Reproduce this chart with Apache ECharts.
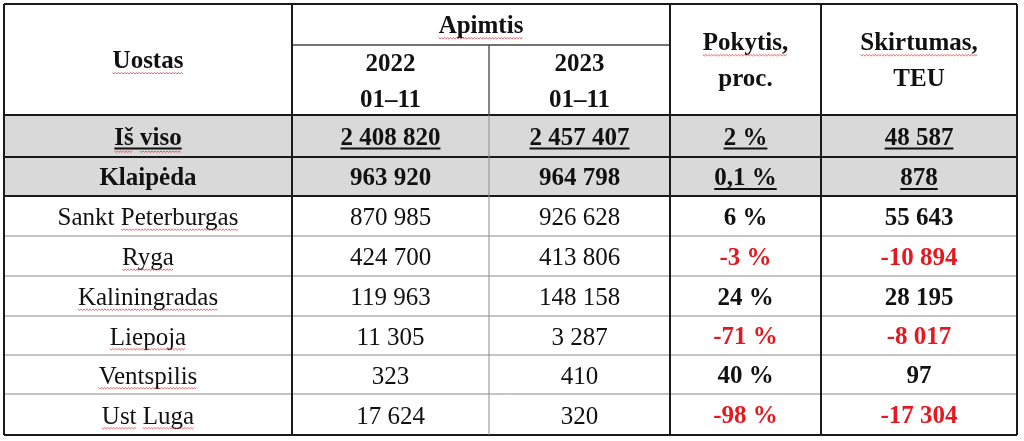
<!DOCTYPE html>
<html><head><meta charset="utf-8">
<script src="https://cdn.jsdelivr.net/npm/echarts@6/dist/echarts.min.js"></script>
<style>html,body{margin:0;padding:0;background:#fff}#c{width:1024px;height:441px}</style>
</head><body><div id="c"></div>
<script>
// ---- data ----
const headUostas = 'Uostas';
const headApimtis = 'Apimtis';
const headYears = [['2022', '01–11'], ['2023', '01–11']];
const headPokytis = ['Pokytis,', 'proc.'];
const headSkirtumas = ['Skirtumas,', 'TEU'];
const ports = ['Iš viso', 'Klaipėda', 'Sankt Peterburgas', 'Ryga', 'Kaliningradas', 'Liepoja', 'Ventspilis', 'Ust Luga'];
const vol2022 = [2408820, 963920, 870985, 424700, 119963, 11305, 323, 17624];
const vol2023 = [2457407, 964798, 926628, 413806, 148158, 3287, 410, 320];
const changePct = [2, 0.1, 6, -3, 24, -71, 40, -98];
const diffTEU = [48587, 878, 55643, -10894, 28195, -8017, 97, -17304];
// words flagged by the spell checker (red wavy underline), per port name
const portSpellWords = [[0, 1], [], [1], [0], [0], [0], [0], [0, 1]];

// ---- layout ----
const colEdges = [4, 292, 489, 670, 821, 1017];
const rowEdges = [4, 45, 115, 157, 196, 236, 276, 316, 355, 394, 435];
const FONT = '"Liberation Serif", "Times New Roman", serif';
const FS = 25;
const LH = 36;
const TEXT_DY = 2.5;
const RED = '#e5171f';
const GRAY = '#d9d9d9';

function fmtInt(n) {
  const s = String(Math.abs(n)).replace(/\B(?=(\d{3})+(?!\d))/g, ' ');
  return (n < 0 ? '-' : '') + s;
}
function fmtPct(v) { return String(v).replace('.', ',') + ' %'; }

const mctx = document.createElement('canvas').getContext('2d');
function measure(t, bold) {
  mctx.font = (bold ? 'bold ' : '') + FS + 'px ' + FONT;
  return mctx.measureText(t).width;
}

// ---- cells ----
const cells = [];
function cell(c0, c1, r0, r1, lines, o) {
  cells.push(Object.assign({c0, c1, r0, r1, lines, bold: false, color: '#111', fill: '#fff', ul: false, spell: []}, o || {}));
}
cell(0, 1, 0, 2, [headUostas], {bold: true, spell: [0]});
cell(1, 3, 0, 1, [headApimtis], {bold: true, spell: [0]});
cell(1, 2, 1, 2, headYears[0], {bold: true});
cell(2, 3, 1, 2, headYears[1], {bold: true});
cell(3, 4, 0, 2, headPokytis, {bold: true, spell: [0]});
cell(4, 5, 0, 2, headSkirtumas, {bold: true, spell: [0]});
ports.forEach((p, i) => {
  const r = 2 + i;
  const total = i < 2;
  const fill = total ? GRAY : '#fff';
  cell(0, 1, r, r + 1, [p], {bold: total, fill, ul: i === 0, spell: portSpellWords[i]});
  cell(1, 2, r, r + 1, [fmtInt(vol2022[i])], {bold: total, fill, ul: i === 0});
  cell(2, 3, r, r + 1, [fmtInt(vol2023[i])], {bold: total, fill, ul: i === 0});
  cell(3, 4, r, r + 1, [fmtPct(changePct[i])], {bold: true, fill, ul: total, color: changePct[i] < 0 ? RED : '#111'});
  cell(4, 5, r, r + 1, [fmtInt(diffTEU[i])], {bold: true, fill, ul: total, color: diffTEU[i] < 0 ? RED : '#111'});
});

// ---- borders: [c0, r0, c1, r1, kind] ----
const borders = [];
const last = rowEdges.length - 1, lastC = colEdges.length - 1;
borders.push([0, 0, lastC, 0, 'thick']);
borders.push([1, 1, 3, 1, 'mid']);
borders.push([0, 2, lastC, 2, 'thick']);
borders.push([0, 3, lastC, 3, 'thick']);
borders.push([0, 4, lastC, 4, 'thick']);
for (let r = 5; r < last; r++) borders.push([0, r, lastC, r, 'thin']);
borders.push([0, last, lastC, last, 'thick']);
borders.push([0, 0, 0, last, 'thick']);
borders.push([1, 0, 1, last, 'thick']);
borders.push([2, 1, 2, 2, 'mid']);
borders.push([2, 2, 2, last, 'thin']);
borders.push([3, 0, 3, last, 'thick']);
borders.push([4, 0, 4, last, 'thick']);
borders.push([lastC, 0, lastC, last, 'thick']);
const lineStyles = {
  thick: {stroke: '#1a1a1a', lineWidth: 2},
  mid: {stroke: '#444', lineWidth: 1.3},
  thin: {stroke: '#8a8a8a', lineWidth: 1}
};

function spellLine(x0, x1, y) {
  const pts = [];
  let up = true;
  for (let x = x0; x <= x1; x += 1.5) { pts.push([x, up ? y : y + 1.4]); up = !up; }
  return {type: 'polyline', shape: {points: pts}, style: {stroke: 'rgba(215,40,40,0.8)', lineWidth: 0.9, fill: null}, silent: true};
}

function renderCell(params, api) {
  const c = cells[params.dataIndex];
  const p0 = api.coord([api.value(0), api.value(1)]);
  const p1 = api.coord([api.value(2), api.value(3)]);
  const cx = (p0[0] + p1[0]) / 2, cy = (p0[1] + p1[1]) / 2 + TEXT_DY;
  const ch = [{type: 'rect', shape: {x: p0[0], y: p0[1], width: p1[0] - p0[0], height: p1[1] - p0[1]}, style: {fill: c.fill}}];
  const n = c.lines.length;
  c.lines.forEach((t, li) => {
    const ly = cy + (li - (n - 1) / 2) * LH;
    ch.push({type: 'text', style: {text: t, x: cx, y: ly, align: 'center', verticalAlign: 'middle',
      fill: c.color, fontFamily: FONT, fontSize: FS, fontWeight: c.bold ? 'bold' : 'normal'}});
    const w = measure(t, c.bold);
    const left = cx - w / 2;
    if (c.ul && li === 0) {
      ch.push({type: 'rect', shape: {x: left, y: ly + 9, width: w, height: 2}, style: {fill: '#111'}});
    }
    if (li === 0 && c.spell.length) {
      const words = t.split(' ');
      c.spell.forEach(wi => {
        const pre = words.slice(0, wi).join(' ') + (wi > 0 ? ' ' : '');
        const x0 = left + (wi > 0 ? measure(pre, c.bold) : 0);
        const x1 = x0 + measure(words[wi], c.bold);
        ch.push(spellLine(x0, x1, ly + (c.ul ? 12.5 : 10.5)));
      });
    }
  });
  return {type: 'group', children: ch};
}

function renderBorder(params, api) {
  const b = borders[params.dataIndex];
  const p0 = api.coord([api.value(0), api.value(1)]);
  const p1 = api.coord([api.value(2), api.value(3)]);
  return {type: 'line', shape: {x1: p0[0], y1: p0[1], x2: p1[0], y2: p1[1]}, style: Object.assign({}, lineStyles[b[4]])};
}

const chart = echarts.init(document.getElementById('c'), null, {renderer: 'canvas'});
chart.setOption({
  animation: false,
  backgroundColor: '#fff',
  grid: {left: 0, top: 0, width: 1024, height: 441},
  xAxis: {type: 'value', min: 0, max: 1024, show: false},
  yAxis: {type: 'value', min: 0, max: 441, inverse: true, show: false},
  series: [
    {type: 'custom', coordinateSystem: 'cartesian2d', clip: false, renderItem: renderCell,
      encode: {x: [0, 2], y: [1, 3]},
      data: cells.map(c => [colEdges[c.c0], rowEdges[c.r0], colEdges[c.c1], rowEdges[c.r1]])},
    {type: 'custom', coordinateSystem: 'cartesian2d', clip: false, renderItem: renderBorder, z: 5,
      encode: {x: [0, 2], y: [1, 3]},
      data: borders.map(b => [colEdges[b[0]], rowEdges[b[1]], colEdges[b[2]], rowEdges[b[3]]])}
  ]
});
</script>
</body></html>
